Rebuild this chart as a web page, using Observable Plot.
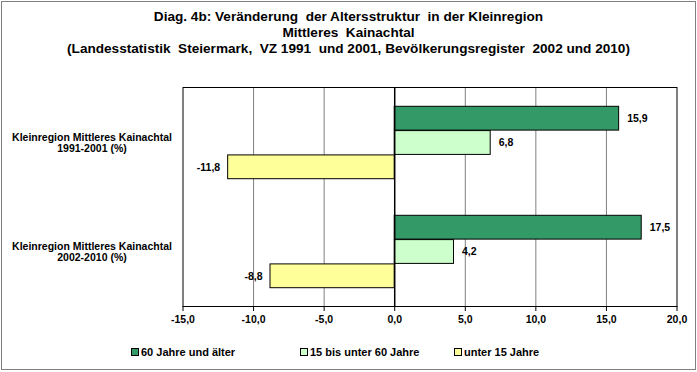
<!DOCTYPE html>
<html>
<head>
<meta charset="utf-8">
<script src="https://cdn.jsdelivr.net/npm/d3@7"></script>
<script src="https://cdn.jsdelivr.net/npm/@observablehq/plot@0.6"></script>
<style>
  body { margin: 0; background: #fff; }
  #wrap { position: relative; width: 697px; height: 372px; font-family: "Liberation Sans", Arial, sans-serif; font-weight: bold; color: #000; }
  #border { position: absolute; left: 1px; top: 1px; width: 693px; height: 367px; border: 1px solid #808080; }
  #title { position: absolute; left: 0; top: 9px; width: 697px; text-align: center; font-size: 13.6px; line-height: 16px; }
  #chart { position: absolute; left: 0; top: 62px; }
  #legend { position: absolute; left: 0; top: 346px; width: 697px; height: 16px; font-size: 11px; }
  .item { position: absolute; top: 0; white-space: nowrap; }
  .sw { display: inline-block; width: 6px; height: 6px; border: 1px solid #000; margin-right: 2px; vertical-align: 0px; }
</style>
</head>
<body>
<div id="wrap">
  <div id="border"></div>
  <div id="title"></div>
  <div id="chart"></div>
  <div id="legend"></div>
</div>
<script>
const titleLines = [
  "Diag. 4b: Veränderung  der Altersstruktur  in der Kleinregion",
  "Mittleres  Kainachtal",
  "(Landesstatistik  Steiermark,  VZ 1991  und 2001, Bevölkerungsregister  2002 und 2010)"
];
const regions = ["Kleinregion Mittleres Kainachtal\n1991-2001 (%)", "Kleinregion Mittleres Kainachtal\n2002-2010 (%)"];
const seriesNames = ["60 Jahre und älter", "15 bis unter 60 Jahre", "unter 15 Jahre"];
const seriesColors = ["#339966", "#CCFFCC", "#FFFF99"];
const values60 = [15.9, 17.5];
const values15to60 = [6.8, 4.2];
const valuesUnder15 = [-11.8, -8.8];
const xTicks = [-15, -10, -5, 0, 5, 10, 15, 20];

document.getElementById("title").innerHTML = titleLines.map(t => t.replace(/  /g, " &nbsp;")).join("<br>");

const allValues = [values60, values15to60, valuesUnder15];
const data = [];
seriesNames.forEach((s, si) => regions.forEach((r, ri) => data.push({series: s, si, region: r, value: allValues[si][ri]})));

const fmt = d => d.toFixed(1).replace(".", ",");

const bandH = 109.5, barH = 24.3, top0 = 18.3;
const marks = [
  Plot.ruleX(xTicks.filter(d => d !== 0 && d !== -15 && d !== 20), {stroke: "#808080", strokeWidth: 1}),
];
seriesNames.forEach((s, si) => {
  const it = top0 + si * barH;
  const sub = data.filter(d => d.si === si);
  marks.push(Plot.barX(sub, {
    x: "value", y: "region", fill: seriesColors[si], stroke: "#000", strokeWidth: 1,
    insetTop: it, insetBottom: bandH - it - barH
  }));
  const dy = it + barH / 2 - bandH / 2;
  marks.push(Plot.text(sub.filter(d => d.value >= 0), {
    x: "value", y: "region", text: d => fmt(d.value), textAnchor: "start", dx: 8, dy,
    fontSize: 10.5, fontWeight: "bold", fill: "#000"
  }));
  marks.push(Plot.text(sub.filter(d => d.value < 0), {
    x: "value", y: "region", text: d => fmt(d.value), textAnchor: "end", dx: -8, dy,
    fontSize: 10.5, fontWeight: "bold", fill: "#000"
  }));
});
marks.push(Plot.ruleX([0], {stroke: "#000", strokeWidth: 1.5}));
marks.push(Plot.frame({stroke: "#000", strokeWidth: 1}));
marks.push(Plot.axisX({ticks: xTicks, tickFormat: fmt, tickSize: 5, tickPadding: 4, fontSize: 10.5, fontWeight: "bold", stroke: "#000", fill: "#000", label: null}));
marks.push(Plot.axisY({tickSize: 0, tickPadding: 0, textAnchor: "middle", dx: -91, fontSize: 10.5, fontWeight: "bold", fill: "#000", lineHeight: 1.1, label: null}));

const chart = Plot.plot({
  width: 697,
  height: 274,
  marginTop: 25,
  marginBottom: 30,
  marginLeft: 182.5,
  marginRight: 20.5,
  style: {fontFamily: "'Liberation Sans', Arial, sans-serif", background: "transparent", overflow: "visible"},
  x: {domain: [-15, 20]},
  y: {domain: regions, padding: 0},
  marks
});
document.getElementById("chart").appendChild(chart);

const legendX = [131, 300, 454];
document.getElementById("legend").innerHTML = seriesNames.map((s, i) =>
  `<span class="item" style="left:${legendX[i]}px"><span class="sw" style="background:${seriesColors[i]}"></span>${s}</span>`
).join("");
</script>
</body>
</html>
